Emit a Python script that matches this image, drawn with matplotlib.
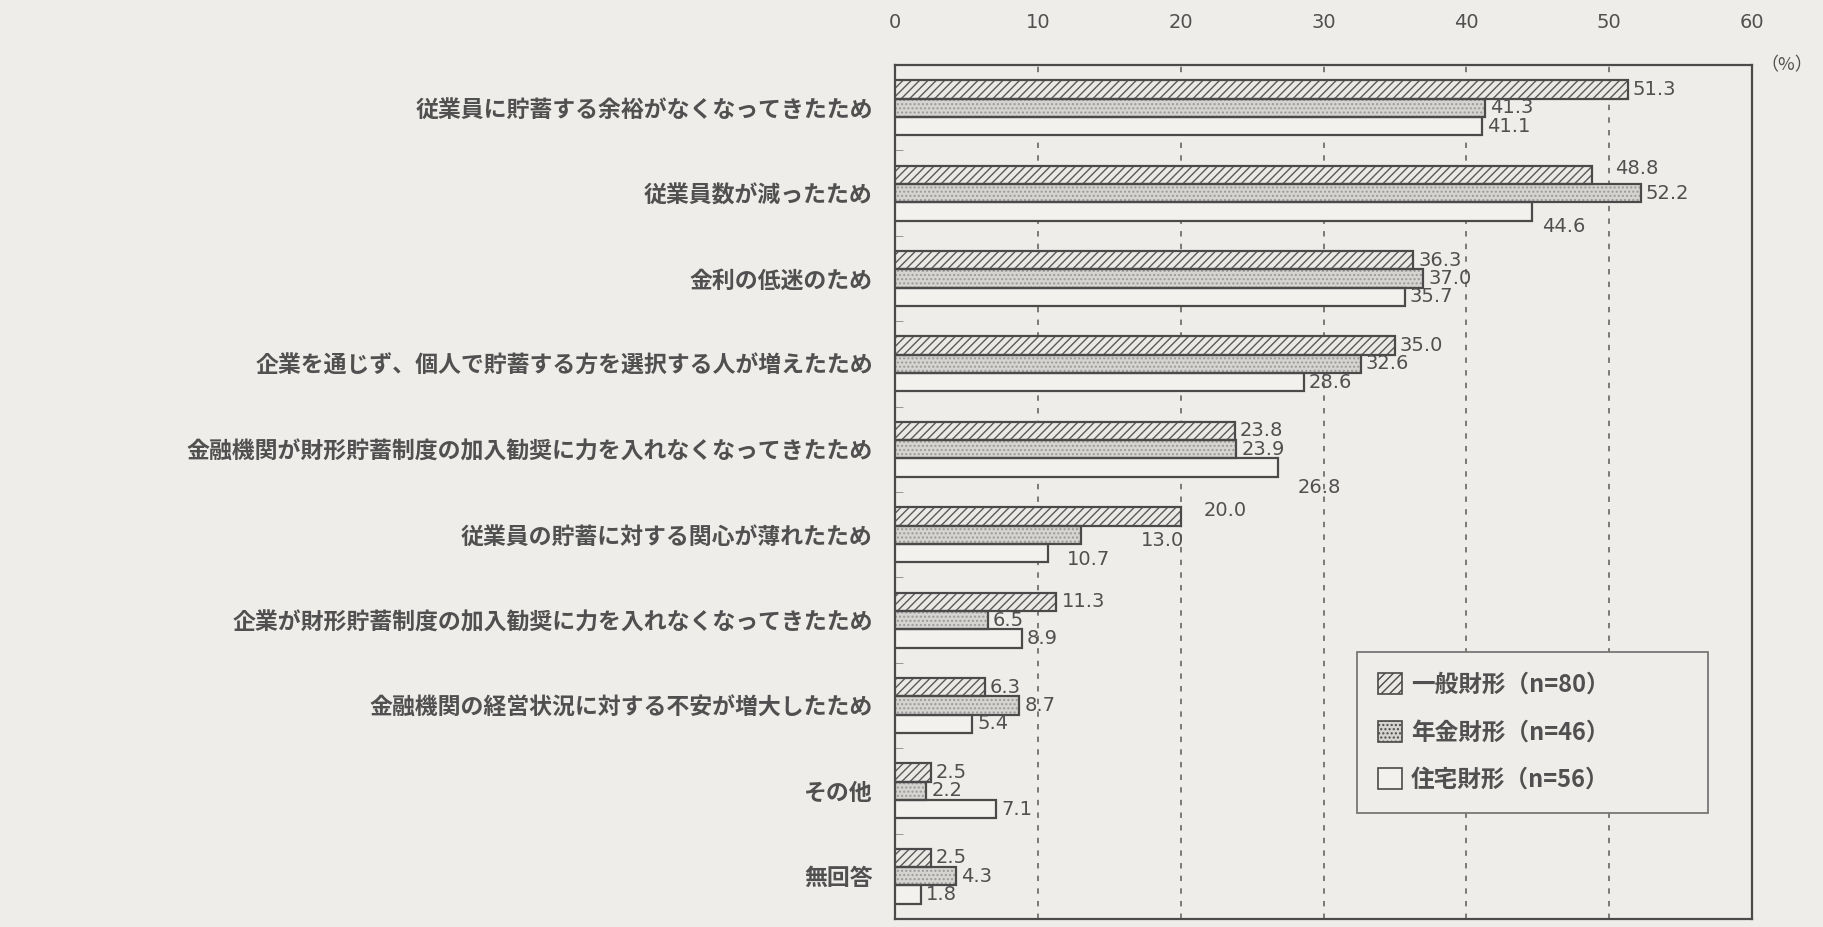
import numpy as np
import matplotlib.pyplot as plt
from matplotlib.patches import Patch
from matplotlib import font_manager

# data
categories = [
    "従業員に貯蓄する余裕がなくなってきたため",
    "従業員数が減ったため",
    "金利の低迷のため",
    "企業を通じず、個人で貯蓄する方を選択する人が増えたため",
    "金融機関が財形貯蓄制度の加入勧奨に力を入れなくなってきたため",
    "従業員の貯蓄に対する関心が薄れたため",
    "企業が財形貯蓄制度の加入勧奨に力を入れなくなってきたため",
    "金融機関の経営状況に対する不安が増大したため",
    "その他",
    "無回答",
]
ippan = [51.3, 48.8, 36.3, 35.0, 23.8, 20.0, 11.3, 6.3, 2.5, 2.5]
nenkin = [41.3, 52.2, 37.0, 32.6, 23.9, 13.0, 6.5, 8.7, 2.2, 4.3]
jutaku = [41.1, 44.6, 35.7, 28.6, 26.8, 10.7, 8.9, 5.4, 7.1, 1.8]
series_names = ["一般財形（n=80）", "年金財形（n=46）", "住宅財形（n=56）"]
xticks = [0, 10, 20, 30, 40, 50, 60]

bg = "#efedea"
ink = "#505050"
cjk = "Noto Sans CJK JP"
names = {f.name for f in font_manager.fontManager.ttflist}
num_font = "Liberation Sans Narrow" if "Liberation Sans Narrow" in names else "DejaVu Sans"

plt.rcParams["font.family"] = [cjk, "DejaVu Sans"]
plt.rcParams["hatch.linewidth"] = 1.0

fig = plt.figure(figsize=(18.23, 9.27), dpi=100, facecolor=bg)
ax = fig.add_axes([895 / 1823, 1 - 919 / 927, (1752 - 895) / 1823, (919 - 65) / 927])
ax.set_facecolor(bg)

y = np.arange(len(categories))
h = 0.215
styles = [
    dict(face="#ebe9e5", hatch="////", hc="#5a5a5a"),
    dict(face="#d6d4d0", hatch="....", hc="#9a9a9a"),
    dict(face="#f3f1ee", hatch="", hc="#f3f1ee"),
]
offs = [-h, 0, h]
allvals = [ippan, nenkin, jutaku]

for vals, st, o in zip(allvals, styles, offs):
    ax.barh(y + o, vals, height=h, color=st["face"], hatch=st["hatch"],
            edgecolor=st["hc"], linewidth=0, zorder=3)
    ax.barh(y + o, vals, height=h, fill=False, edgecolor="#4a4a4a",
            linewidth=1.6, zorder=4)

# labels that were nudged in the original (series, row): pixel offsets
nudge = {(0, 1): (23, -6), (2, 1): (10, 15), (2, 4): (20, 20),
         (0, 5): (23, -6), (1, 5): (60, 6), (2, 5): (19, 6)}
for s, vals in enumerate(allvals):
    for i, v in enumerate(vals):
        dx, dy = nudge.get((s, i), (5, 0))
        ax.annotate(f"{v:.1f}", (v, y[i] + offs[s]), xytext=(dx, -dy),
                    textcoords="offset pixels", va="center", ha="left",
                    fontsize=14, color=ink, family=num_font, zorder=5)

ax.set_xlim(0, 60)
ax.set_ylim(len(categories) - 0.5, -0.5)
ax.xaxis.tick_top()
ax.set_xticks(xticks)
ax.set_xticklabels([str(t) for t in xticks], family=num_font, fontsize=14, color=ink)
ax.tick_params(axis="x", length=0, pad=24)
ax.set_yticks(y)
ax.set_yticklabels(categories, fontsize=16.5, color=ink, fontweight="bold")
ax.tick_params(axis="y", length=0, pad=16)
ax.set_yticks(y[:-1] + 0.5, minor=True)
ax.tick_params(axis="y", which="minor", direction="in", length=6, color="#888")

for t in xticks[1:-1]:
    ax.axvline(t, color="#707070", linestyle=(0, (3, 4)), linewidth=1.3, zorder=1)

for sp in ax.spines.values():
    sp.set_color("#4a4a4a")
    sp.set_linewidth(1.6)

ax.text(1.01, 1.0, "（%）", transform=ax.transAxes, va="center", ha="left",
        fontsize=13, color=ink)

handles = [Patch(facecolor=st["face"], hatch=st["hatch"], edgecolor="#4a4a4a", linewidth=1.2)
           for st in styles]
leg = ax.legend(handles, series_names, loc="lower left",
                bbox_to_anchor=(0.525, 0.11, 0.438, 0.175), mode="expand",
                fontsize=17, frameon=True, fancybox=False, edgecolor="#777",
                facecolor=bg, framealpha=1, borderpad=0.9, labelspacing=1.0,
                handlelength=1.0, handleheight=1.0, handletextpad=0.4)
leg.get_frame().set_linewidth(1.3)
for txt in leg.get_texts():
    txt.set_color(ink)
    txt.set_fontweight("bold")
leg.set_zorder(6)

fig.savefig("out.png", dpi=100, facecolor=bg)
